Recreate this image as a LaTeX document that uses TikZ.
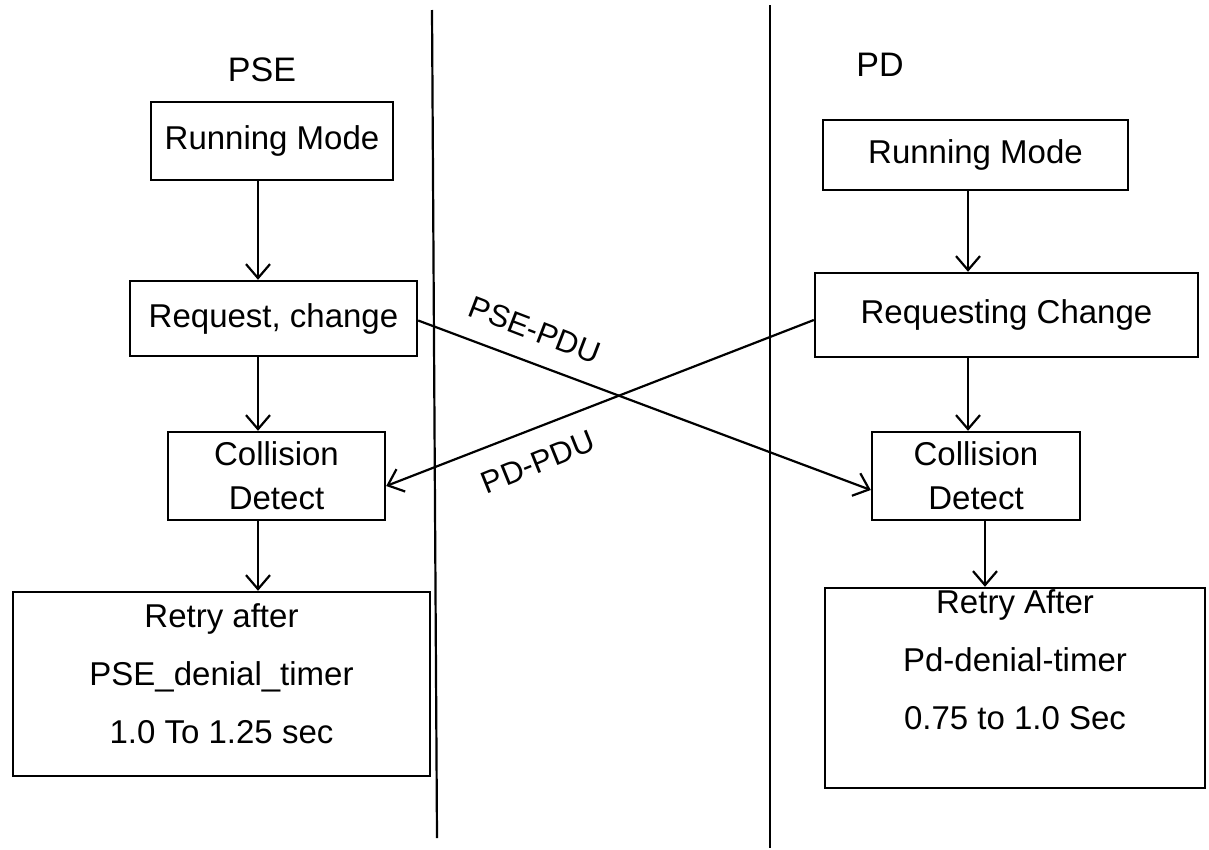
\documentclass[tikz,border=0pt]{standalone}
\usepackage{fontspec}
\setmainfont{Liberation Sans}
\usetikzlibrary{arrows.meta}
\begin{document}
\begin{tikzpicture}[x=1pt,y=-1pt,
  box/.style={draw,line width=2.4pt,inner sep=0pt,align=center,font=\fontsize{33}{44}\selectfont},
  retbox/.style={box,font=\fontsize{33}{58}\selectfont},
  arr/.style={line width=2.2pt,-{Straight Barb[length=14pt,width=24pt,line width=2.2pt]}},
  lane/.style={line width=2.2pt},
  lbl/.style={font=\fontsize{31}{36}\selectfont},
  head/.style={font=\fontsize{34}{40}\selectfont}]
\useasboundingbox (0,0) rectangle (1209,849);
% lanes
\coordinate (l1t) at (432,10);
\coordinate (l1b) at (437,838);
\coordinate (l2t) at (770,5);
\coordinate (l2b) at (770,848);
\draw[lane] (l1t) -- (l1b);
\draw[lane] (l2t) -- (l2b);
% headings
\node[head] (hpse) at (262,70) {PSE};
\node[head] (hpd) at (880,65) {PD};
% left column
\node[box,minimum width=242pt,minimum height=78pt] (lrun) at (272,141) {Running Mode};
\node[box,minimum width=287pt,minimum height=75pt] (lreq) at (273.5,318.5) {Request, change};
\node[box,minimum width=217pt,minimum height=88pt] (lcol) at (276.5,476) {Collision\\Detect};
\node[retbox,minimum width=417pt,minimum height=184pt,text depth=20pt] (lret) at (221.5,684) {Retry after\\PSE\_denial\_timer\\1.0 To 1.25 sec};
% right column
\node[box,minimum width=305pt,minimum height=70pt] (rrun) at (975.5,155) {Running Mode};
\node[box,minimum width=383pt,minimum height=84pt] (rreq) at (1006.5,315) {Requesting Change};
\node[box,minimum width=208pt,minimum height=88pt] (rcol) at (976,476) {Collision\\Detect};
\node[retbox,minimum width=380pt,minimum height=200pt,text depth=56pt] (rret) at (1015,688) {Retry After\\Pd-denial-timer\\0.75 to 1.0 Sec};
% vertical arrows
\draw[arr] ([xshift=-14pt]lrun.south) -- ([xshift=-15.5pt]lreq.north);
\draw[arr] ([xshift=-15.5pt]lreq.south) -- ([xshift=-18.5pt]lcol.north);
\draw[arr] ([xshift=-18.5pt]lcol.south) -- ([xshift=36.5pt]lret.north);
\draw[arr] ([xshift=-7.5pt]rrun.south) -- ([xshift=-38.5pt]rreq.north);
\draw[arr] ([xshift=-38.5pt]rreq.south) -- ([xshift=-8pt]rcol.north);
\draw[arr] ([xshift=9pt]rcol.south) -- ([xshift=-30pt]rret.north);
% crossing messages
\draw[arr] ([yshift=-2pt]lreq.east) -- ([yshift=-14pt]rcol.west);
\draw[arr] ([yshift=-5pt]rreq.west) -- ([yshift=-10pt]lcol.east);
\node[lbl,rotate=-21] (mpse) at (535,330) {PSE-PDU};
\node[lbl,rotate=22] (mpd) at (538,462) {PD-PDU};
\end{tikzpicture}
\end{document}
